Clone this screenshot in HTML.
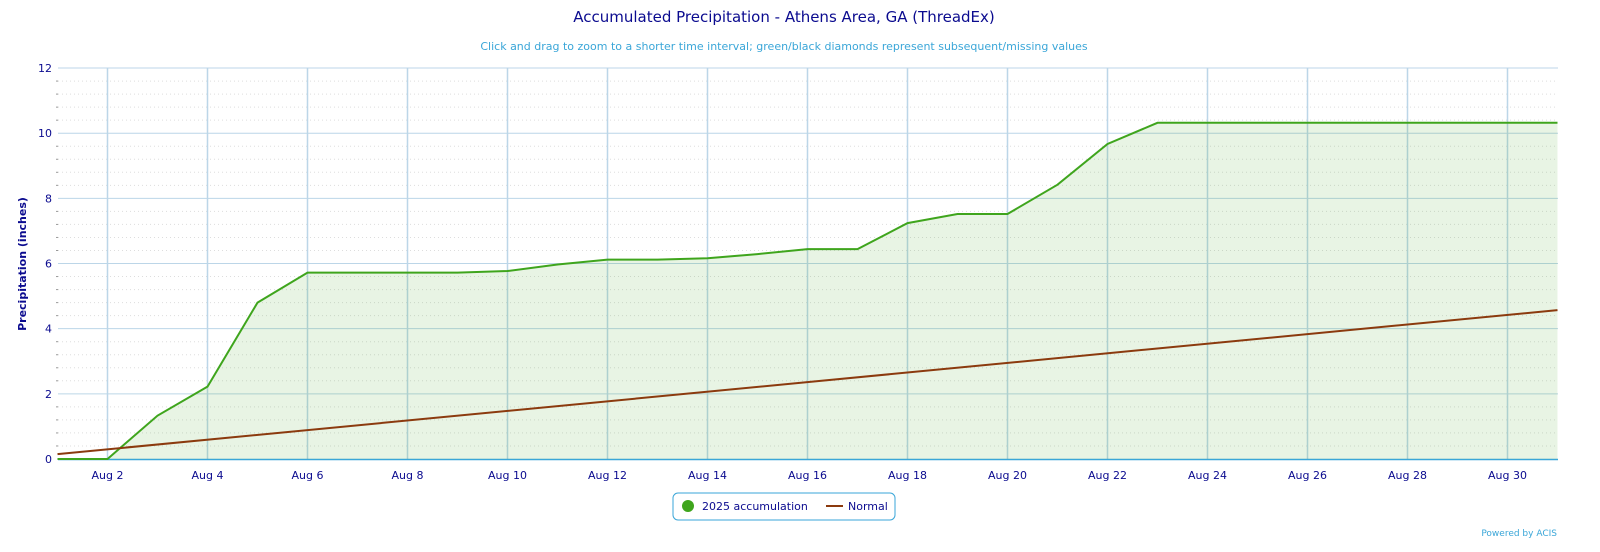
<!DOCTYPE html>
<html><head><meta charset="utf-8"><style>
html,body{margin:0;padding:0;background:#fff;overflow:hidden;width:1600px;height:552px;}
svg{display:block;}
</style></head><body>
<svg width="1600" height="552" xmlns="http://www.w3.org/2000/svg" font-family="DejaVu Sans, sans-serif">
<text x="784" y="22" text-anchor="middle" font-size="15" fill="#0b0b8f">Accumulated Precipitation - Athens Area, GA (ThreadEx)</text>
<text x="784" y="50" text-anchor="middle" font-size="11" fill="#3aa6d8">Click and drag to zoom to a shorter time interval; green/black diamonds represent subsequent/missing values</text>
<g id="grid"></g>
<text x="26" y="264" transform="rotate(-90 26 264)" text-anchor="middle" font-size="11" font-weight="bold" fill="#0b0b8f">Precipitation (inches)</text>
<g id="plot"></g>
<rect x="673" y="493" width="222" height="27" rx="5" fill="#fff" stroke="#3aa6d8"/>
<circle cx="688" cy="506" r="6" fill="#3fa51d"/>
<text x="702" y="510" font-size="11" fill="#0b0b8f">2025 accumulation</text>
<line x1="826" y1="506" x2="843" y2="506" stroke="#8b3a0e" stroke-width="2"/>
<text x="848" y="510" font-size="11" fill="#0b0b8f">Normal</text>
<text x="1557" y="536" text-anchor="end" font-size="9" fill="#3aa6d8">Powered by ACIS</text>
</svg>
<script>
const X=d=>57.5+(d-1)*50, Y=v=>459-v*32.58;
let g='';
for(let i=0;i<=60;i++){const v=i*0.2; if(i%10==0)continue; if(i%2==0){const y=Y(v);g+=`<line x1="58" x2="1558" y1="${y}" y2="${y}" stroke="#ddd" stroke-dasharray="1,3"/><line x1="56" x2="58" y1="${y}" y2="${y}" stroke="#999"/>`;}}
for(let v=2;v<=12;v+=2){const y=Y(v);g+=`<line x1="58" x2="1558" y1="${y}" y2="${y}" stroke="#bcd6e8"/>`;}
for(let v=0;v<=12;v+=2)g+=`<text x="52" y="${Y(v)+4}" text-anchor="end" font-size="11" fill="#0b0b8f">${v}</text>`;
for(let d=2;d<=30;d+=2){const x=X(d);g+=`<line x1="${x}" x2="${x}" y1="68" y2="459" stroke="#bcd6e8" stroke-width="1.5"/><text x="${x}" y="479" text-anchor="middle" font-size="11" fill="#0b0b8f">Aug ${d}</text>`;}
g+=`<line x1="58" x2="1558" y1="459.5" y2="459.5" stroke="#3aa6d8" stroke-width="1.5"/>`;
document.getElementById('grid').outerHTML='<g>'+g+'</g>';
const gr=[0,0,1.33,2.22,4.8,5.72,5.72,5.72,5.72,5.77,5.97,6.12,6.12,6.16,6.29,6.44,6.44,7.24,7.52,7.52,8.42,9.67,10.32,10.32,10.32,10.32,10.32,10.32,10.32,10.32,10.32];
let pts=gr.map((v,i)=>X(i+1)+','+Y(v)).join(' ');
let p=`<polygon points="${X(1)},${Y(0)} ${pts} ${X(31)},${Y(0)}" fill="#3fa51d" fill-opacity="0.12"/>`;
p+=`<polyline points="${pts}" fill="none" stroke="#3fa51d" stroke-width="2"/>`;
p+=`<line x1="${X(1)}" y1="${Y(0.15)}" x2="${X(31)}" y2="${Y(4.57)}" stroke="#8b3a0e" stroke-width="2"/>`;
document.getElementById('plot').outerHTML='<g>'+p+'</g>';
</script>
</body></html>
